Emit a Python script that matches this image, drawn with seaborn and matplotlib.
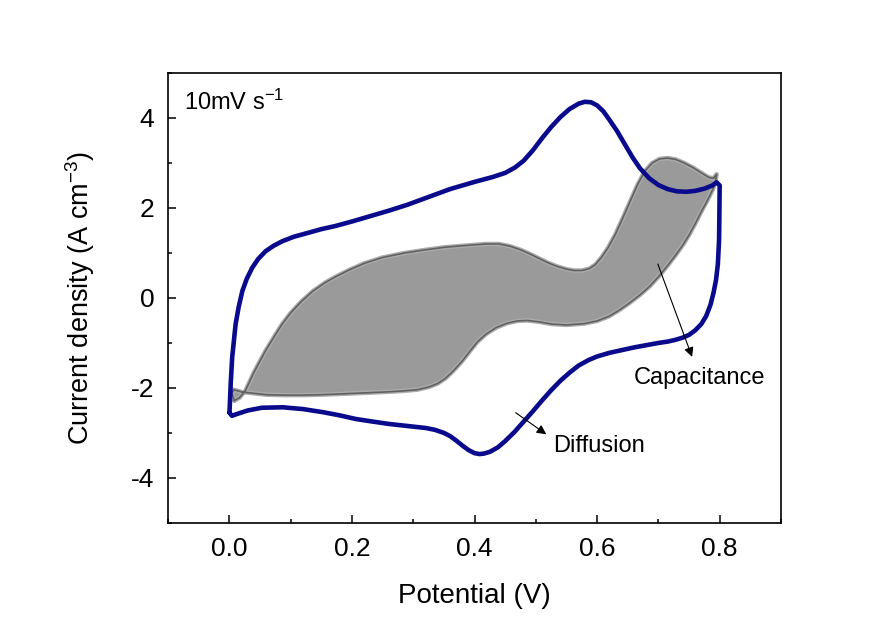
import numpy as np
import pandas as pd
import matplotlib
matplotlib.use("Agg")
import matplotlib.pyplot as plt
from matplotlib.ticker import MultipleLocator
import seaborn as sns

# ---- data ----
# outer CV (blue): anodic sweep 0 -> 0.8 V
cv_up_x = [0.000, 0.002, 0.0044, 0.010, 0.015, 0.021, 0.028, 0.037, 0.047, 0.059, 0.072, 0.086,
           0.105, 0.129, 0.150, 0.173, 0.200, 0.230, 0.260, 0.290, 0.320, 0.360, 0.400, 0.430,
           0.450, 0.466, 0.480, 0.495, 0.510, 0.525, 0.540, 0.555, 0.570, 0.580, 0.590, 0.600,
           0.610, 0.620, 0.632, 0.645, 0.658, 0.670, 0.685, 0.700, 0.715, 0.730, 0.745, 0.760,
           0.775, 0.788, 0.795, 0.800]
cv_up_y = [-2.55, -1.90, -1.32, -0.58, -0.20, 0.155, 0.42, 0.67, 0.87, 1.04, 1.16, 1.26,
           1.36, 1.45, 1.53, 1.60, 1.70, 1.82, 1.94, 2.07, 2.22, 2.42, 2.58, 2.69,
           2.78, 2.90, 3.05, 3.28, 3.55, 3.80, 4.02, 4.20, 4.32, 4.36, 4.35, 4.28,
           4.15, 3.96, 3.72, 3.42, 3.12, 2.88, 2.66, 2.51, 2.42, 2.37, 2.36, 2.38,
           2.43, 2.50, 2.57, 2.50]
# cathodic sweep 0.8 -> 0 V
cv_dn_x = [0.800, 0.7995, 0.799, 0.797, 0.794, 0.790, 0.785, 0.778, 0.770, 0.760, 0.750, 0.740,
           0.728, 0.715, 0.700, 0.680, 0.660, 0.640, 0.620, 0.600, 0.586, 0.570, 0.555, 0.540,
           0.525, 0.510, 0.495, 0.480, 0.465, 0.450, 0.438, 0.425, 0.415, 0.408, 0.400, 0.390,
           0.380, 0.370, 0.360, 0.350, 0.335, 0.320, 0.300, 0.280, 0.260, 0.230, 0.206, 0.180,
           0.153, 0.120, 0.087, 0.053, 0.030, 0.012, 0.004, 0.000]
cv_dn_y = [2.50, 1.90, 1.30, 0.75, 0.40, 0.12, -0.15, -0.40, -0.58, -0.72, -0.82, -0.88,
           -0.93, -0.97, -1.00, -1.05, -1.10, -1.16, -1.22, -1.30, -1.38, -1.50, -1.66, -1.84,
           -2.05, -2.28, -2.52, -2.75, -2.98, -3.18, -3.32, -3.42, -3.46, -3.47, -3.45, -3.38,
           -3.28, -3.17, -3.07, -3.00, -2.93, -2.89, -2.86, -2.83, -2.80, -2.74, -2.69, -2.61,
           -2.54, -2.47, -2.43, -2.44, -2.50, -2.58, -2.62, -2.55]

# capacitive contribution (grey region): upper edge, left -> right
cap_up_x = [0.008, 0.016, 0.026, 0.040, 0.059, 0.073, 0.086, 0.100, 0.118, 0.136, 0.156, 0.173,
            0.195, 0.220, 0.250, 0.286, 0.320, 0.353, 0.390, 0.419, 0.440, 0.458, 0.475, 0.490,
            0.505, 0.520, 0.535, 0.550, 0.562, 0.575, 0.587, 0.597, 0.607, 0.618, 0.630, 0.642,
            0.654, 0.666, 0.678, 0.690, 0.702, 0.715, 0.728, 0.742, 0.756, 0.770, 0.782, 0.790,
            0.795]
cap_up_y = [-2.28, -2.22, -2.06, -1.65, -1.17, -0.86, -0.58, -0.33, -0.07, 0.15, 0.34, 0.47,
            0.62, 0.77, 0.90, 1.00, 1.07, 1.13, 1.17, 1.20, 1.20, 1.15, 1.07, 0.98,
            0.88, 0.78, 0.70, 0.64, 0.61, 0.61, 0.65, 0.74, 0.90, 1.12, 1.42, 1.78,
            2.15, 2.52, 2.82, 3.00, 3.09, 3.11, 3.08, 3.00, 2.90, 2.78, 2.68, 2.66,
            2.75]
# lower edge, right -> left
cap_dn_x = [0.795, 0.793, 0.789, 0.784, 0.778, 0.770, 0.760, 0.750, 0.740, 0.728, 0.715, 0.700,
            0.685, 0.670, 0.652, 0.635, 0.619, 0.600, 0.579, 0.550, 0.526, 0.505, 0.486, 0.470,
            0.453, 0.435, 0.419, 0.405, 0.393, 0.380, 0.366, 0.353, 0.340, 0.325, 0.306, 0.280,
            0.253, 0.220, 0.186, 0.150, 0.120, 0.090, 0.060, 0.040, 0.020, 0.007, 0.004, 0.008]
cap_dn_y = [2.75, 2.58, 2.42, 2.28, 2.12, 1.92, 1.65, 1.40, 1.18, 0.95, 0.72, 0.47,
            0.25, 0.07, -0.12, -0.28, -0.41, -0.51, -0.57, -0.60, -0.58, -0.53, -0.50, -0.51,
            -0.56, -0.66, -0.80, -0.97, -1.17, -1.40, -1.61, -1.78, -1.90, -1.98, -2.04, -2.07,
            -2.09, -2.11, -2.13, -2.15, -2.16, -2.16, -2.15, -2.12, -2.09, -2.04, -2.12, -2.28]

x_ticks = [0.0, 0.2, 0.4, 0.6, 0.8]
y_ticks = [-4, -2, 0, 2, 4]

# ---- build tables ----
cv = pd.DataFrame({"E": cv_up_x + cv_dn_x, "j": cv_up_y + cv_dn_y})
cap = pd.DataFrame({"E": cap_up_x + cap_dn_x, "j": cap_up_y + cap_dn_y})

sns.set_theme(style="white")
plt.rcParams["font.family"] = ["Liberation Sans", "DejaVu Sans"]
plt.rcParams["mathtext.default"] = "regular"
plt.rcParams["text.color"] = "black"
plt.rcParams["axes.labelcolor"] = "black"
plt.rcParams["xtick.color"] = "black"
plt.rcParams["ytick.color"] = "black"

fig = plt.figure(figsize=(8.9, 6.24), dpi=100)
ax = fig.add_axes([0.189, 0.162, 0.6885, 0.721])

# grey capacitive area
ax.fill(cap["E"], cap["j"], color="#9a9a9a", zorder=1, linewidth=0)
sns.lineplot(data=cap, x="E", y="j", sort=False, estimator=None, ax=ax,
             color="#ababab", linewidth=3.2, zorder=2)
sns.lineplot(data=cap, x="E", y="j", sort=False, estimator=None, ax=ax,
             color="#616161", linewidth=1.2, zorder=3)
# blue total CV
sns.lineplot(data=cv, x="E", y="j", sort=False, estimator=None, ax=ax,
             color="#0a0a8c", linewidth=3.3, zorder=4)

ax.set_xlim(-0.1, 0.9)
ax.set_ylim(-5, 5)
ax.set_xticks(x_ticks)
ax.set_xticklabels([f"{v:.1f}" for v in x_ticks])
ax.set_yticks(y_ticks)
ax.set_yticklabels([str(v) for v in y_ticks])
ax.xaxis.set_minor_locator(MultipleLocator(0.1))
ax.yaxis.set_minor_locator(MultipleLocator(1))
ax.tick_params(which="both", direction="in", top=False, right=False,
               bottom=True, left=True, labelsize=19, width=1.1, color="black",
               labelcolor="black", pad=10)
ax.tick_params(which="major", length=6)
ax.tick_params(which="minor", length=3)
for s in ax.spines.values():
    s.set_color("black")
    s.set_linewidth(1.2)

ax.set_xlabel("Potential (V)", fontsize=20, labelpad=16)
ax.set_ylabel("Current density (A cm$^{-3}$)", fontsize=19.5, labelpad=24)

ax.text(-0.075, 4.19, "10mV s$^{-1}$", fontsize=17, ha="left", va="baseline")

arrow = dict(arrowstyle="-|>", color="black", lw=0.8, mutation_scale=14, shrinkA=0, shrinkB=0)
ax.annotate("", xy=(0.755, -1.31), xytext=(0.699, 0.755), arrowprops=arrow, zorder=6)
ax.text(0.66, -1.78, "Capacitance", fontsize=17, ha="left", va="center")
ax.annotate("", xy=(0.517, -3.03), xytext=(0.467, -2.55), arrowprops=arrow, zorder=6)
ax.text(0.528, -3.30, "Diffusion", fontsize=17, ha="left", va="center")

fig.savefig("out.png", dpi=100)
